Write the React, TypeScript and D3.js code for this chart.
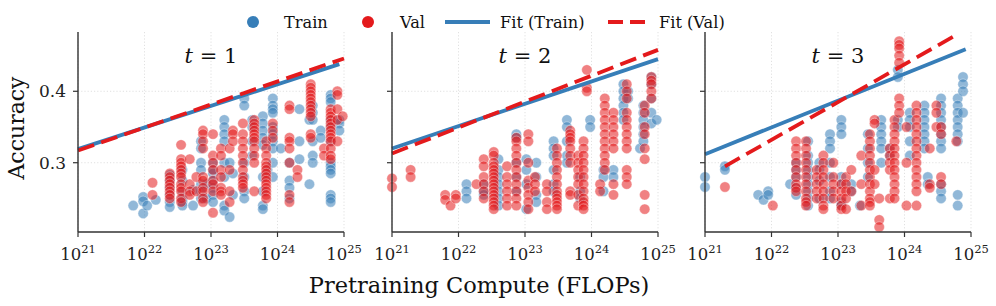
import * as d3 from "d3";

// log10(FLOPs) column, then accuracies in that column
type Col = [number, number[]];

const panelTitles = ["1", "2", "3"];
const xTickExps = [21, 22, 23, 24, 25];
const yTicks = [0.3, 0.4];

const trainT1: Col[] = [
  [21.83, [0.24]],
  [21.98, [0.252, 0.246, 0.229]],
  [22.04, [0.24]],
  [22.17, [0.248]],
  [22.38, [0.283, 0.275, 0.265, 0.255, 0.245, 0.238]],
  [22.57, [0.29, 0.275, 0.26, 0.25, 0.245, 0.24]],
  [22.73, [0.262, 0.24]],
  [22.85, [0.33, 0.32, 0.3, 0.29, 0.27, 0.26, 0.25]],
  [22.93, [0.27, 0.25]],
  [23.03, [0.3, 0.29, 0.285, 0.275, 0.265, 0.255, 0.245]],
  [23.2, [0.36, 0.35, 0.34, 0.33, 0.3, 0.28, 0.24, 0.233]],
  [23.28, [0.224, 0.3]],
  [23.33, [0.285, 0.255]],
  [23.5, [0.39, 0.38, 0.3, 0.28, 0.26, 0.25]],
  [23.62, [0.36, 0.35, 0.33, 0.31]],
  [23.78, [0.365, 0.355, 0.345, 0.335, 0.325, 0.28, 0.26, 0.24, 0.235]],
  [23.85, [0.29]],
  [23.93, [0.39, 0.38, 0.375, 0.37, 0.35, 0.34, 0.33, 0.32, 0.3, 0.28]],
  [24.05, [0.32]],
  [24.18, [0.3, 0.275, 0.265, 0.25]],
  [24.33, [0.375, 0.33, 0.305]],
  [24.48, [0.36, 0.27]],
  [24.53, [0.38, 0.37, 0.36, 0.33, 0.31, 0.3]],
  [24.65, [0.345, 0.335]],
  [24.8, [0.395, 0.39, 0.385, 0.36, 0.35, 0.33, 0.3, 0.295, 0.29, 0.285, 0.255, 0.25, 0.245]],
  [24.93, [0.36, 0.355, 0.345]],
];

const valT1: Col[] = [
  [22.12, [0.272, 0.255]],
  [22.38, [0.285, 0.28, 0.275, 0.27, 0.265, 0.26, 0.255, 0.25]],
  [22.55, [0.325, 0.305, 0.3, 0.295, 0.29, 0.285, 0.28, 0.27, 0.265, 0.26, 0.25, 0.245]],
  [22.68, [0.305, 0.27, 0.26, 0.255]],
  [22.78, [0.28, 0.26]],
  [22.88, [0.345, 0.34, 0.33, 0.32, 0.28, 0.275, 0.265, 0.26, 0.25, 0.245]],
  [23.03, [0.34, 0.31, 0.3, 0.29, 0.275, 0.27, 0.26, 0.23]],
  [23.15, [0.32, 0.31, 0.29, 0.28, 0.265, 0.26, 0.255]],
  [23.28, [0.245, 0.26, 0.29, 0.32]],
  [23.33, [0.345, 0.34, 0.33]],
  [23.48, [0.355, 0.34, 0.33, 0.32, 0.31, 0.3, 0.29, 0.28, 0.275, 0.27, 0.265]],
  [23.65, [0.36, 0.355, 0.35, 0.345, 0.34, 0.335, 0.33, 0.32, 0.31, 0.3, 0.26]],
  [23.83, [0.33, 0.32, 0.31, 0.3, 0.295, 0.29, 0.285, 0.28, 0.275, 0.27, 0.265, 0.26, 0.255, 0.25]],
  [23.93, [0.355, 0.345, 0.335]],
  [24.18, [0.38, 0.375, 0.335, 0.33, 0.32, 0.3, 0.255, 0.245]],
  [24.3, [0.29, 0.28]],
  [24.5, [0.41, 0.405, 0.4, 0.395, 0.39, 0.385, 0.38, 0.375, 0.37, 0.365, 0.34, 0.335]],
  [24.7, [0.32, 0.31]],
  [24.8, [0.375, 0.37, 0.365, 0.36, 0.355, 0.35, 0.345, 0.34, 0.335, 0.33, 0.32, 0.31, 0.305]],
  [24.9, [0.4, 0.395, 0.375, 0.36, 0.33]],
  [24.98, [0.365]],
];

const trainT2: Col[] = [
  [22.12, [0.27, 0.26, 0.25]],
  [22.38, [0.27, 0.26, 0.255]],
  [22.6, [0.305, 0.29, 0.28, 0.27, 0.26, 0.25, 0.24]],
  [22.87, [0.34, 0.335, 0.3, 0.28, 0.26]],
  [23.02, [0.305, 0.29, 0.27, 0.235]],
  [23.17, [0.3, 0.28, 0.255, 0.245]],
  [23.43, [0.33, 0.32, 0.31, 0.29, 0.27, 0.26]],
  [23.63, [0.36, 0.35, 0.33, 0.31, 0.3]],
  [23.83, [0.28, 0.26, 0.25]],
  [23.98, [0.36, 0.35]],
  [24.18, [0.29, 0.28, 0.26]],
  [24.33, [0.29, 0.28]],
  [24.48, [0.41, 0.4, 0.39, 0.38, 0.37, 0.36]],
  [24.55, [0.4, 0.39]],
  [24.73, [0.32]],
  [24.78, [0.38, 0.37, 0.36, 0.35, 0.34, 0.33]],
  [24.9, [0.42, 0.41, 0.39, 0.37, 0.355]],
  [24.98, [0.36]],
];

const valT2: Col[] = [
  [21.0, [0.278, 0.266]],
  [21.28, [0.29, 0.28]],
  [21.8, [0.255, 0.248]],
  [21.88, [0.24]],
  [21.96, [0.255, 0.25]],
  [22.27, [0.27]],
  [22.38, [0.305, 0.295, 0.28, 0.27, 0.26, 0.25]],
  [22.53, [0.315, 0.31, 0.3, 0.295, 0.29, 0.285, 0.28, 0.275, 0.27, 0.265, 0.26, 0.255, 0.25, 0.245, 0.24, 0.235]],
  [22.73, [0.295, 0.28, 0.27, 0.26, 0.25, 0.24]],
  [22.87, [0.335, 0.33, 0.32, 0.31, 0.3, 0.29, 0.28, 0.27, 0.26, 0.25, 0.24]],
  [23.05, [0.34, 0.33, 0.3, 0.275, 0.265, 0.255, 0.245, 0.235]],
  [23.15, [0.28, 0.27, 0.26]],
  [23.33, [0.27, 0.26, 0.245, 0.235]],
  [23.48, [0.32, 0.31, 0.3, 0.29, 0.28, 0.27, 0.26, 0.255, 0.25, 0.245, 0.24, 0.235]],
  [23.68, [0.345, 0.34, 0.335, 0.33, 0.32, 0.31, 0.3, 0.26, 0.255]],
  [23.8, [0.31, 0.3, 0.29, 0.28, 0.27, 0.255, 0.24]],
  [23.88, [0.33, 0.32, 0.31, 0.3, 0.29, 0.28, 0.27, 0.26, 0.25, 0.245, 0.24, 0.235]],
  [23.93, [0.43, 0.405, 0.4]],
  [24.13, [0.27, 0.26]],
  [24.2, [0.39, 0.38, 0.37, 0.36, 0.35, 0.34, 0.33, 0.32, 0.31, 0.3, 0.29]],
  [24.33, [0.37, 0.36, 0.35, 0.34, 0.33, 0.32, 0.27, 0.255]],
  [24.53, [0.41, 0.4, 0.39, 0.37, 0.36, 0.35, 0.34, 0.33, 0.32, 0.29, 0.28, 0.27]],
  [24.8, [0.38, 0.37, 0.35, 0.34, 0.32, 0.305, 0.255, 0.235]],
  [24.9, [0.42, 0.415, 0.41, 0.4, 0.39]],
];

const trainT3: Col[] = [
  [21.0, [0.28, 0.266]],
  [21.3, [0.295, 0.29]],
  [21.8, [0.255]],
  [21.88, [0.248]],
  [21.95, [0.26, 0.255]],
  [22.28, [0.27]],
  [22.37, [0.3, 0.29, 0.28, 0.265, 0.255]],
  [22.55, [0.33, 0.31, 0.3, 0.29, 0.28, 0.27, 0.26, 0.25, 0.24]],
  [22.72, [0.3, 0.29, 0.275, 0.25]],
  [22.88, [0.34, 0.33, 0.32, 0.3, 0.28, 0.26, 0.25]],
  [23.05, [0.36, 0.35, 0.34, 0.28, 0.27, 0.245, 0.24]],
  [23.2, [0.27, 0.26]],
  [23.33, [0.24]],
  [23.45, [0.34, 0.32, 0.3, 0.28]],
  [23.65, [0.36, 0.35, 0.34, 0.33, 0.32, 0.3]],
  [23.78, [0.32, 0.31]],
  [23.9, [0.43, 0.42, 0.36, 0.35]],
  [24.08, [0.37, 0.36, 0.35, 0.33, 0.31]],
  [24.3, [0.38, 0.37, 0.36, 0.35, 0.34, 0.33, 0.32]],
  [24.35, [0.28, 0.27]],
  [24.55, [0.39, 0.38, 0.37, 0.36, 0.35, 0.34, 0.33, 0.32, 0.27, 0.26, 0.25]],
  [24.8, [0.39, 0.38, 0.37, 0.36, 0.35, 0.34, 0.33, 0.255, 0.24]],
  [24.88, [0.42, 0.41, 0.4, 0.37]],
];

const valT3: Col[] = [
  [21.3, [0.266]],
  [22.02, [0.24]],
  [22.37, [0.33, 0.32, 0.31, 0.3, 0.29, 0.28, 0.27, 0.265, 0.26]],
  [22.52, [0.33, 0.32, 0.31, 0.3, 0.29, 0.28, 0.27, 0.26, 0.25, 0.245, 0.24]],
  [22.68, [0.29, 0.28, 0.27, 0.26, 0.25]],
  [22.78, [0.31, 0.3, 0.29, 0.28, 0.27, 0.26, 0.25, 0.24, 0.235]],
  [22.93, [0.3, 0.28, 0.27, 0.26, 0.25]],
  [23.05, [0.27, 0.26, 0.25, 0.24, 0.235]],
  [23.12, [0.28, 0.27, 0.26, 0.25, 0.235]],
  [23.2, [0.29, 0.26]],
  [23.35, [0.31, 0.27, 0.24]],
  [23.48, [0.34, 0.33, 0.32, 0.31, 0.3, 0.29, 0.28, 0.27, 0.26, 0.25, 0.245, 0.24]],
  [23.55, [0.36, 0.355, 0.29, 0.27]],
  [23.62, [0.25, 0.22, 0.21]],
  [23.78, [0.32, 0.31, 0.3, 0.29, 0.25]],
  [23.85, [0.36, 0.35, 0.34, 0.33, 0.32, 0.31, 0.3, 0.29, 0.28, 0.27, 0.26, 0.25]],
  [23.92, [0.47, 0.465, 0.46, 0.45, 0.44, 0.39, 0.38, 0.37]],
  [24.03, [0.35, 0.3, 0.24]],
  [24.18, [0.38, 0.37, 0.36, 0.35, 0.34, 0.33, 0.32, 0.31, 0.3, 0.29, 0.28, 0.27, 0.26, 0.24]],
  [24.38, [0.32, 0.27, 0.265]],
  [24.48, [0.38, 0.37, 0.35]],
  [24.55, [0.35, 0.34, 0.28, 0.27]],
  [24.78, [0.33]],
];

// fit endpoints: [log10 start, acc start, log10 end, acc end]
const fitTrain = [
  [21, 0.319, 24.93, 0.438],
  [21, 0.32, 25, 0.445],
  [21, 0.312, 24.92, 0.459],
];
const fitVal = [
  [21, 0.317, 25, 0.446],
  [21, 0.313, 25, 0.458],
  [21.3, 0.295, 24.8, 0.48],
];

const trainSets = [trainT1, trainT2, trainT3];
const valSets = [valT1, valT2, valT3];

const BLUE = "#377eb8";
const RED = "#e41a1c";
const FONT = "DejaVu Serif";

const panelLefts = [78, 392, 705];
const panelW = 266;
const top = 32;
const bottom = 232;

const y = d3.scaleLinear().domain([0.203, 0.483]).range([bottom, top]);

function Panel({ idx }: { idx: number }) {
  const left = panelLefts[idx];
  const x = d3
    .scaleLog()
    .domain([1e21, 1e25])
    .range([left, left + panelW]);
  const px = (e: number) => x(Math.pow(10, e));
  const pts = (cols: Col[]) =>
    cols.flatMap(([e, ys]) => ys.map((v) => [e, v] as [number, number]));
  const line = d3
    .line<[number, number]>()
    .x((d) => px(d[0]))
    .y((d) => y(d[1]));
  const ft = fitTrain[idx];
  const fv = fitVal[idx];

  return (
    <g>
      {/* grid */}
      {xTickExps.map((e) => (
        <line
          key={"gx" + e}
          x1={px(e)}
          x2={px(e)}
          y1={top}
          y2={bottom}
          stroke="#d9d9d9"
          strokeWidth={0.8}
          strokeDasharray="1.2,2"
        />
      ))}
      {yTicks.map((t) => (
        <line
          key={"gy" + t}
          x1={left}
          x2={left + panelW}
          y1={y(t)}
          y2={y(t)}
          stroke="#d9d9d9"
          strokeWidth={0.8}
          strokeDasharray="1.2,2"
        />
      ))}

      {/* points */}
      {pts(trainSets[idx]).map((d, i) => (
        <circle
          key={"t" + i}
          cx={px(d[0])}
          cy={y(d[1])}
          r={5.2}
          fill={BLUE}
          fillOpacity={0.55}
          stroke="#fff"
          strokeOpacity={0.6}
          strokeWidth={0.6}
        />
      ))}
      {pts(valSets[idx]).map((d, i) => (
        <circle
          key={"v" + i}
          cx={px(d[0])}
          cy={y(d[1])}
          r={5.2}
          fill={RED}
          fillOpacity={0.55}
          stroke="#fff"
          strokeOpacity={0.6}
          strokeWidth={0.6}
        />
      ))}

      {/* fits */}
      <path
        d={line([[ft[0], ft[1]], [ft[2], ft[3]]]) ?? ""}
        stroke={BLUE}
        strokeWidth={3.8}
        fill="none"
      />
      <path
        d={line([[fv[0], fv[1]], [fv[2], fv[3]]]) ?? ""}
        stroke={RED}
        strokeWidth={3.8}
        strokeDasharray="17,7.5"
        fill="none"
      />

      {/* spines */}
      <line x1={left} x2={left} y1={top} y2={bottom} stroke="#333" strokeWidth={1.4} />
      <line x1={left} x2={left + panelW} y1={bottom} y2={bottom} stroke="#333" strokeWidth={1.4} />

      {/* x ticks */}
      {xTickExps.map((e) => (
        <g key={"xt" + e}>
          <line x1={px(e)} x2={px(e)} y1={bottom} y2={bottom + 5} stroke="#333" strokeWidth={1.2} />
          <text x={px(e)} y={bottom + 28} fontFamily={FONT} fontSize={16.5} fill="#222" textAnchor="middle">
            10<tspan dy={-7} fontSize={11.5}>{e}</tspan>
          </text>
        </g>
      ))}

      {/* y ticks */}
      {yTicks.map((t) => (
        <g key={"yt" + t}>
          <line x1={left - 5} x2={left} y1={y(t)} y2={y(t)} stroke="#333" strokeWidth={1.2} />
          {idx === 0 && (
            <text x={left - 12} y={y(t) + 6} fontFamily={FONT} fontSize={17} fill="#222" textAnchor="end">
              {d3.format(".1f")(t)}
            </text>
          )}
        </g>
      ))}

      {/* title */}
      <text x={left + panelW / 2} y={63} fontFamily={FONT} fontSize={21} fill="#111" textAnchor="middle">
        <tspan fontStyle="italic">t</tspan> = {panelTitles[idx]}
      </text>
    </g>
  );
}

export default function App() {
  return (
    <svg
      width={996}
      height={306}
      style={{ position: "absolute", left: 0, top: 0, background: "#fff" }}
    >
      {[0, 1, 2].map((i) => (
        <Panel key={i} idx={i} />
      ))}

      <text
        transform="translate(24,128) rotate(-90)"
        fontFamily={FONT}
        fontSize={22}
        fill="#111"
        textAnchor="middle"
      >
        Accuracy
      </text>
      <text x={479} y={293} fontFamily={FONT} fontSize={22.5} fill="#111" textAnchor="middle">
        Pretraining Compute (FLOPs)
      </text>

      {/* legend */}
      <g fontFamily={FONT} fontSize={16.2} fill="#111">
        <circle cx={253} cy={22} r={6} fill={BLUE} />
        <text x={284} y={27.5}>Train</text>
        <circle cx={368} cy={22} r={6} fill={RED} />
        <text x={400} y={27.5}>Val</text>
        <line x1={445} x2={490} y1={22} y2={22} stroke={BLUE} strokeWidth={4} />
        <text x={500} y={27.5}>Fit (Train)</text>
        <line x1={608} x2={648} y1={22} y2={22} stroke={RED} strokeWidth={4} strokeDasharray="15,7" />
        <text x={659} y={27.5}>Fit (Val)</text>
      </g>
    </svg>
  );
}
